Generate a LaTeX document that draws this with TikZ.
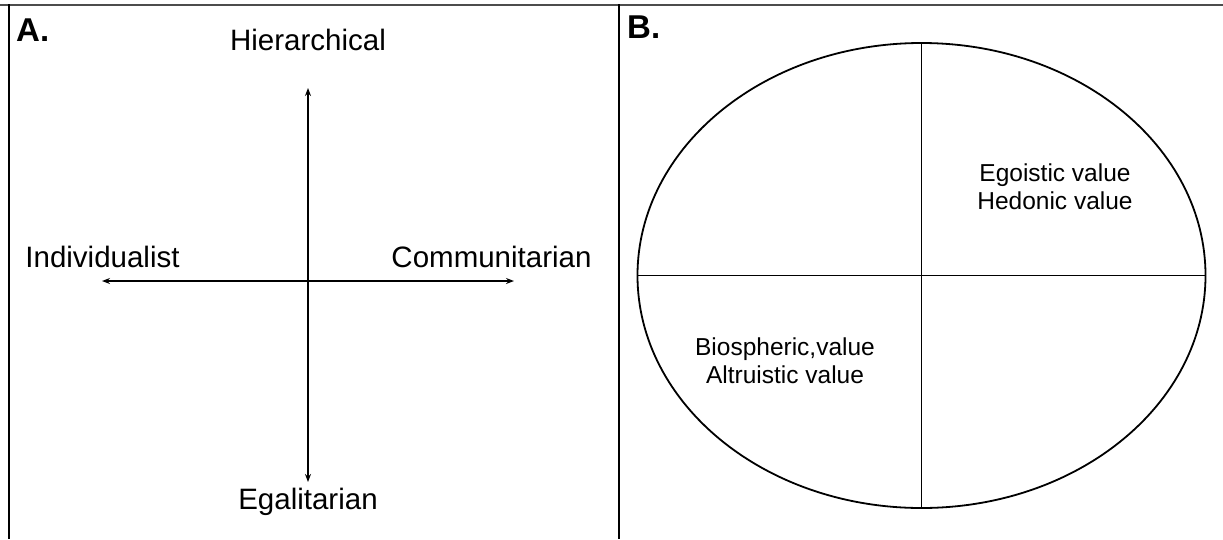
\documentclass[tikz,border=0pt]{standalone}
\usepackage{fontspec}
\setmainfont{Liberation Sans}
\usetikzlibrary{arrows.meta,shapes.geometric}
\tikzset{
  axis/.style={line width=1.8pt, {Stealth[length=8pt,width=6pt]}-{Stealth[length=8pt,width=6pt]}},
  biglabel/.style={anchor=base, inner sep=0pt, font=\fontsize{29.5}{35}\selectfont},
  smalllabel/.style={anchor=base, inner sep=0pt, align=center, font=\fontsize{24.5}{27.5}\selectfont},
  panellabel/.style={anchor=base west, inner sep=0pt, font=\bfseries\fontsize{33}{36}\selectfont},
  frameline/.style={line width=2pt},
  quad/.style={line width=1.8pt},
}
\begin{document}
\begin{tikzpicture}[x=1pt,y=-1pt]
\useasboundingbox (0,0) rectangle (1223,539);
% frame
\coordinate (tl) at (0,5);
\coordinate (tr) at (1223,5);
\coordinate (lt) at (9,4);
\coordinate (lb) at (9,539);
\coordinate (mt) at (619,4);
\coordinate (mb) at (619,539);
\draw[frameline, gray!60!black] (tl) -- (tr);
\draw[frameline] (lt) -- (lb);
\draw[frameline] (mt) -- (mb);
% panel labels
\node[panellabel] (A) at (16,41) {A.};
\node[panellabel] (B) at (627,38) {B.};
% panel A axes
\coordinate (up) at (308,88);
\coordinate (down) at (308,482);
\coordinate (left) at (102,281);
\coordinate (right) at (514,281);
\draw[axis] (down) -- (up);
\draw[axis] (left) -- (right);
\node[biglabel] (hier) at (308,50) {Hierarchical};
\node[biglabel] (egal) at (308,509) {Egalitarian};
\node[biglabel] (indiv) at (102.5,267) {Individualist};
\node[biglabel] (comm) at (491.5,267) {Communitarian};
% panel B
\node[ellipse, draw, quad, outer sep=0pt, minimum width=568pt, minimum height=465pt] (ell) at (921.5,275.5) {};
\draw[quad] (ell.north) -- (ell.south);
\draw[quad] (ell.west) -- (ell.east);
\node[smalllabel] (ego) at (1055,209) {Egoistic value\\Hedonic value};
\node[smalllabel] (bio) at (785,383) {Biospheric,value\\Altruistic value};
\end{tikzpicture}
\end{document}
